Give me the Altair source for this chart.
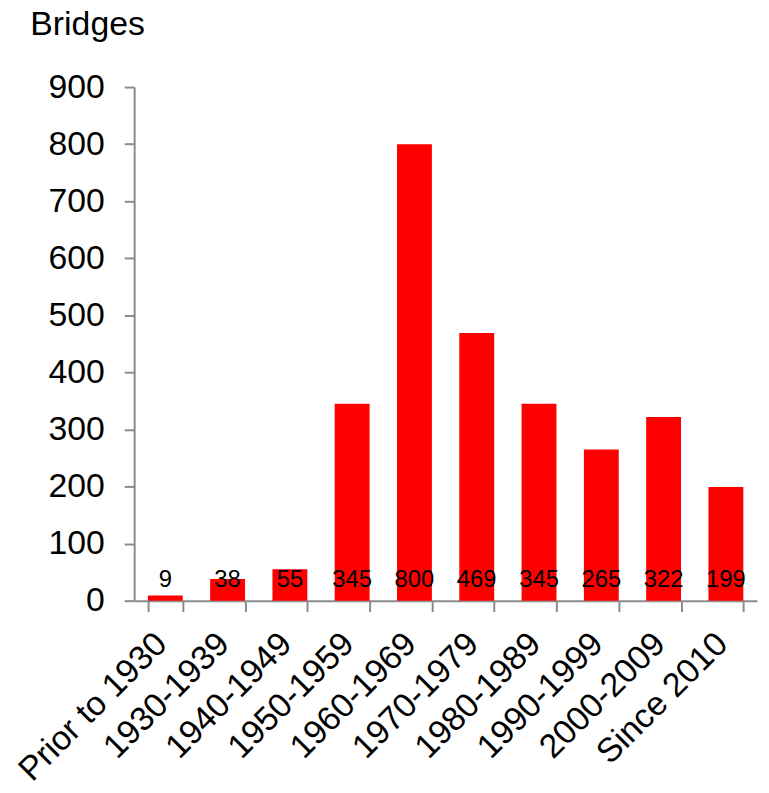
import altair as alt
import pandas as pd

categories = ["Prior to 1930", "1930-1939", "1940-1949", "1950-1959", "1960-1969",
              "1970-1979", "1980-1989", "1990-1999", "2000-2009", "Since 2010"]
bridges = [9, 38, 55, 345, 800, 469, 345, 265, 322, 199]

df = pd.DataFrame({"period": categories, "bridges": bridges})

FONT = "Liberation Sans"

x = alt.X("period:N", sort=categories,
          scale=alt.Scale(paddingInner=0.44, paddingOuter=0.22),
          axis=alt.Axis(title=None, labelAngle=-45, labelAlign="right", labelBaseline="middle",
                        labelFontSize=34, labelFont=FONT, labelColor="black", labelPadding=27,
                        labelOffset=-4, labelLimit=0, tickBand="extent", tickSize=11,
                        tickColor="#8c8c8c", tickWidth=2, domainColor="#8c8c8c",
                        domainWidth=2, labelOverlap=False))

y_axis = alt.Axis(title="Bridges", titleAngle=0, titleX=-105, titleY=-53, titleAlign="left",
                  titleBaseline="alphabetic", titleFontSize=34, titleFont=FONT,
                  titleFontWeight="normal", titleColor="black", titleLimit=0,
                  values=list(range(0, 901, 100)), labelFontSize=34, labelFont=FONT,
                  labelColor="black", labelPadding=20, tickSize=10, tickColor="#8c8c8c",
                  tickWidth=2, domainColor="#8c8c8c", domainWidth=2, grid=False)

bars = alt.Chart(df).mark_bar(color="#ff0000").encode(
    x=x,
    y=alt.Y("bridges:Q", scale=alt.Scale(domain=[0, 900], nice=False), axis=y_axis),
)

labels = alt.Chart(df).mark_text(fontSize=24, font=FONT, color="black",
                                 baseline="middle", dy=-21).encode(
    x=alt.X("period:N", sort=categories),
    y=alt.datum(0),
    text=alt.Text("bridges:Q"),
)

chart = alt.layer(bars, labels).properties(
    width=627, height=517,
    background="white",
    autosize=alt.AutoSizeParams(type="none"),
    padding={"left": 127, "top": 77, "right": 4, "bottom": 190},
).configure_view(strokeWidth=0, stroke=None)

chart.save("out.html", embed_options={"renderer": "svg", "actions": False})
